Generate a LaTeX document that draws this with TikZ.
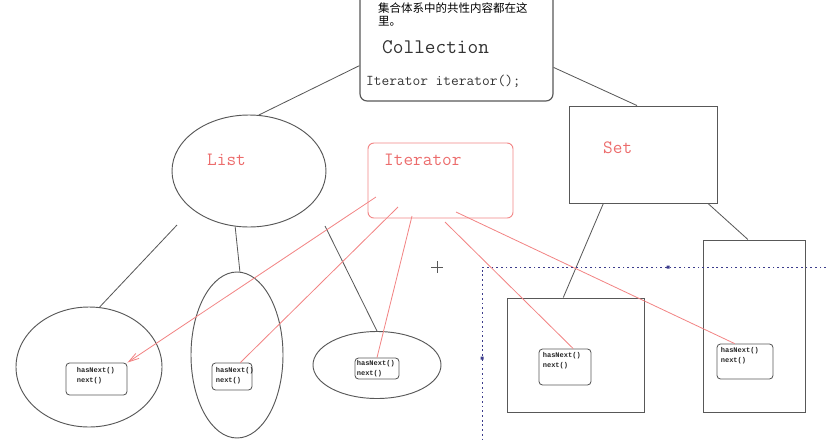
\documentclass[tikz,border=0pt]{standalone}
\usepackage{fontspec}
\newfontfamily\cjk{Noto Sans CJK SC}
\newfontfamily\minimono{Liberation Mono}
\usepackage{xcolor}
\usepackage{tikz}
\usetikzlibrary{shapes,arrows,positioning,calc,arrows.meta}

\definecolor{linegray}{RGB}{88,88,88}
\definecolor{softred}{RGB}{236,108,108}
\definecolor{redline}{RGB}{242,132,132}
\definecolor{selblue}{RGB}{60,60,140}
\newlength\px
\setlength\px{0.03cm}

\begin{document}
\begin{tikzpicture}[x=0.03cm, y=-0.03cm,
    frame/.style={draw=linegray, line width=0.8pt, rectangle, inner sep=0pt},
    oval/.style={draw=linegray, line width=0.8pt, ellipse, inner sep=0pt},
    method/.style={draw=linegray, line width=0.7pt, rounded corners=3pt, inner sep=0pt},
    methodtxt/.style={anchor=north west, align=left, inner sep=0pt, text=black!85,
        font=\minimono\bfseries\fontsize{6}{8.5}\selectfont},
    redlbl/.style={anchor=west, inner sep=0pt, text=softred, font=\ttfamily\fontsize{16}{18}\selectfont},
    link/.style={draw=linegray, line width=0.7pt},
    redlink/.style={draw=redline, line width=0.7pt}]
    \useasboundingbox (0,0) rectangle (826,439);
    \clip (0,0) rectangle (826,439);

    % Collection
    \node[frame, rounded corners=6pt, line width=1pt, minimum width=193\px, minimum height=112\px] (coll) at (456.5,45) {};
    \node[anchor=north west, align=left, inner sep=0pt, font=\cjk\fontsize{9.8}{11}\selectfont] (note) at (378,3) {集合体系中的共性内容都在这\\里。};
    \node[anchor=west, inner sep=0pt, text=black!80, font=\ttfamily\fontsize{17.7}{19}\selectfont] (colltitle) at (382,47) {Collection};
    \node[anchor=west, inner sep=0pt, text=black!80, font=\ttfamily\fontsize{12.8}{14}\selectfont] (collop) at (366,81) {Iterator iterator();};

    % List, Iterator, Set
    \node[oval, minimum width=154\px, minimum height=112\px] (list) at (249,171) {};
    \node[redlbl] (listlbl) at (207,160) {List};
    \node[frame, draw=redline, rounded corners=5pt, minimum width=145\px, minimum height=75\px] (iter) at (440.5,180.5) {};
    \node[redlbl] (iterlbl) at (384,160) {Iterator};
    \node[frame, minimum width=148\px, minimum height=97\px] (set) at (643,154.5) {};
    \node[redlbl] (setlbl) at (603,148) {Set};

    % Containers
    \node[oval, minimum width=146\px, minimum height=120\px] (e1) at (89,367) {};
    \node[oval, minimum width=92\px, minimum height=166\px] (e2) at (237,355) {};
    \node[oval, minimum width=128\px, minimum height=67\px] (e3) at (377,365) {};
    \node[frame, minimum width=137\px, minimum height=114\px] (sq) at (575.5,355) {};
    \node[frame, minimum width=102\px, minimum height=172\px] (tall) at (754,326) {};

    % hasNext() / next()
    \node[method, minimum width=61\px, minimum height=32\px] (m1) at (96.5,379) {};
    \node[methodtxt] (t1) at ($(m1.north west)+(11,5)$) {hasNext()\\next()};
    \node[method, minimum width=40\px, minimum height=27\px] (m2) at (232,376.5) {};
    \node[methodtxt] (t2) at ($(m2.north west)+(4,5)$) {hasNext()\\next()};
    \node[method, minimum width=44\px, minimum height=21\px] (m3) at (377,368.5) {};
    \node[methodtxt] (t3) at ($(m3.north west)+(2,3)$) {hasNext()\\next()};
    \node[method, minimum width=52\px, minimum height=36\px] (m4) at (565,367) {};
    \node[methodtxt] (t4) at ($(m4.north west)+(4,4)$) {hasNext()\\next()};
    \node[method, minimum width=56\px, minimum height=35\px] (m5) at (745,361.5) {};
    \node[methodtxt] (t5) at ($(m5.north west)+(4,4)$) {hasNext()\\next()};

    % Hierarchy
    \draw[link] (coll.192) -- (list.80);
    \draw[link] (coll.-13) -- (set.97);
    \coordinate (l1) at (177,225);
    \draw[link] (l1) -- (e1.80);
    \draw[link] (list.-104) -- (e2.88);
    \coordinate (l3) at (325,226);
    \draw[link] (l3) -- (e3.north);
    \draw[link] (set.-129) -- (sq.102);
    \draw[link] (set.-37.6) -- (tall.94);

    % Iterator links
    \coordinate (i1) at (376,197);
    \coordinate (i2) at (398,207);
    \coordinate (i3) at (412,216);
    \coordinate (i4) at (445,222);
    \coordinate (i5) at (456,212);
    \draw[redlink, -{Straight Barb[length=9pt, width=5pt]}] (i1) -- (m1.north east);
    \draw[redlink] (i2) -- (m2.59);
    \draw[redlink] (i3) -- (m3.north);
    \draw[redlink] (i4) -- (m4.66);
    \draw[redlink] (i5) -- (m5.120);

    % Selection frame and cursor
    \coordinate (sel) at (482,267);
    \draw[selblue, line width=0.6pt, dash pattern=on 1.5pt off 2.5pt] (826,267) -- (sel) -- (482,439);
    \fill[selblue] (666.5,265.5) rectangle (669.5,268.5) (480.5,356.5) rectangle (483.5,359.5);
    \draw[linegray, line width=0.8pt] (431,267) -- (443,267) (437,261) -- (437,273);
\end{tikzpicture}
\end{document}
